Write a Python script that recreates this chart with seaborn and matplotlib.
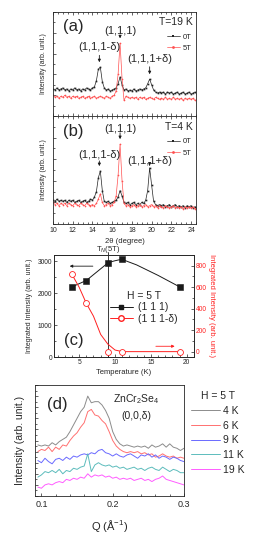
import numpy as np
import pandas as pd
import matplotlib
matplotlib.use("Agg")
import matplotlib.pyplot as plt
from matplotlib.lines import Line2D
from matplotlib.ticker import MultipleLocator, NullFormatter
import seaborn as sns

sns.set_theme(style="ticks")
plt.rcParams['font.family'] = ['Liberation Sans', 'DejaVu Sans']
plt.rcParams['mathtext.fontset'] = 'custom'
plt.rcParams['mathtext.rm'] = 'Liberation Sans'
plt.rcParams['mathtext.it'] = 'Liberation Sans:italic'
plt.rcParams['axes.linewidth'] = 0.6

# ---------------- data: panels (a),(b) 2theta scans ----------------
two_theta_start, two_theta_step, n_scan = 10.0, 0.2, 74
two_theta = two_theta_start + two_theta_step * np.arange(n_scan)

a_0T = [0.26, 0.25, 0.27, 0.25, 0.26,
        0.27, 0.25, 0.26, 0.24, 0.26,
        0.25, 0.27, 0.25, 0.26, 0.24,
        0.26, 0.25, 0.27, 0.26, 0.25,
        0.27, 0.28, 0.34, 0.45, 0.47,
        0.33, 0.27, 0.25, 0.26, 0.24,
        0.25, 0.26, 0.27, 0.31, 0.375,
        0.30, 0.25, 0.26, 0.24, 0.25,
        0.24, 0.26, 0.24, 0.25, 0.26,
        0.25, 0.26, 0.27, 0.31, 0.355,
        0.30, 0.25, 0.23, 0.22, 0.23,
        0.22, 0.23, 0.21, 0.23, 0.22,
        0.23, 0.21, 0.22, 0.23, 0.21,
        0.22, 0.23, 0.21, 0.22, 0.23,
        0.21, 0.22, 0.23, 0.21]
a_5T = [0.20, 0.18, 0.19, 0.17, 0.19,
        0.18, 0.20, 0.18, 0.19, 0.17,
        0.19, 0.18, 0.19, 0.17, 0.18,
        0.19, 0.17, 0.18, 0.19, 0.17,
        0.18, 0.19, 0.17, 0.18, 0.19,
        0.18, 0.17, 0.19, 0.18, 0.17,
        0.19, 0.20, 0.24, 0.40, 0.70,
        0.36, 0.15, 0.19, 0.18, 0.17,
        0.18, 0.17, 0.18, 0.16, 0.18,
        0.17, 0.18, 0.16, 0.17, 0.18,
        0.17, 0.16, 0.18, 0.17, 0.16,
        0.17, 0.16, 0.18, 0.16, 0.17,
        0.16, 0.18, 0.16, 0.17, 0.16,
        0.17, 0.15, 0.17, 0.16, 0.17,
        0.16, 0.17, 0.15, 0.16]
b_0T = [0.22, 0.21, 0.23, 0.21, 0.22,
        0.21, 0.22, 0.20, 0.22, 0.21,
        0.22, 0.20, 0.21, 0.22, 0.20,
        0.21, 0.22, 0.20, 0.21, 0.23,
        0.22, 0.25, 0.30, 0.43, 0.49,
        0.31, 0.21, 0.20, 0.21, 0.19,
        0.20, 0.21, 0.22, 0.25, 0.31,
        0.26, 0.20, 0.19, 0.20, 0.18,
        0.19, 0.20, 0.18, 0.19, 0.18,
        0.20, 0.19, 0.22, 0.31, 0.52,
        0.36, 0.21, 0.18, 0.17, 0.18,
        0.17, 0.18, 0.16, 0.17, 0.18,
        0.16, 0.17, 0.18, 0.16, 0.17,
        0.16, 0.17, 0.15, 0.17, 0.16,
        0.17, 0.15, 0.16, 0.15]
b_5T = [0.20, 0.18, 0.19, 0.17, 0.19,
        0.18, 0.19, 0.17, 0.19, 0.18,
        0.17, 0.19, 0.18, 0.17, 0.19,
        0.18, 0.17, 0.19, 0.18, 0.17,
        0.18, 0.17, 0.19, 0.23, 0.28,
        0.20, 0.17, 0.18, 0.19, 0.17,
        0.18, 0.20, 0.26, 0.45, 0.74,
        0.40, 0.19, 0.17, 0.18, 0.16,
        0.17, 0.18, 0.16, 0.17, 0.18,
        0.16, 0.17, 0.18, 0.16, 0.17,
        0.18, 0.16, 0.17, 0.15, 0.17,
        0.16, 0.15, 0.17, 0.16, 0.15,
        0.16, 0.17, 0.15, 0.16, 0.15,
        0.16, 0.14, 0.16, 0.15, 0.16,
        0.15, 0.16, 0.14, 0.15]
peak_pos = [14.7, 16.8, 19.8]
peak_labels = ["(1,1,1-δ)", "(1,1,1)", "(1,1,1+δ)"]

# ---------------- data: panel (c) integrated intensities ----------------
T_pts = [4, 6, 9, 11, 19]
I_111 = [2200, 2400, 2950, 3070, 2200]
I_111d = [720, 450, 0, 0, 0]
# guide-to-the-eye curves
guide_T_111 = [4, 6, 9, 9.5, 10, 10.5, 11, 13, 16, 19]
guide_I_111 = [2200, 2400, 2950, 2990, 3020, 3045, 3060, 2890, 2560, 2200]
guide_T_111d = [4, 5, 6, 7, 8, 9, 10, 11, 12, 19]
guide_I_111d = [720, 600, 450, 330, 160, 70, 15, 0, 0, 0]
T_N = 9

# ---------------- data: panel (d) Q scans ----------------
Q = [0.095, 0.100, 0.105, 0.110, 0.115, 0.120, 0.125, 0.130, 0.135, 0.140,
     0.145, 0.150, 0.155, 0.160, 0.165, 0.170, 0.175, 0.180, 0.185, 0.190,
     0.195, 0.200, 0.205, 0.210, 0.215, 0.220, 0.225, 0.230, 0.235, 0.240,
     0.245, 0.250, 0.255, 0.260, 0.265, 0.270, 0.275, 0.280, 0.285, 0.290,
     0.295, 0.300]
d_4K = [0.46, 0.45, 0.46, 0.45, 0.48, 0.46, 0.49, 0.51, 0.53, 0.58,
        0.64, 0.70, 0.76, 0.80, 0.90, 0.84, 0.85, 0.85, 0.82, 0.77,
        0.70, 0.58, 0.51, 0.47, 0.45, 0.46, 0.45, 0.44, 0.45, 0.44,
        0.45, 0.43, 0.46, 0.44, 0.45, 0.47, 0.44, 0.47, 0.44, 0.43,
        0.41, 0.43]
d_6K = [0.40, 0.42, 0.41, 0.44, 0.40, 0.44, 0.42, 0.46, 0.45, 0.50,
        0.54, 0.57, 0.62, 0.66, 0.76, 0.78, 0.73, 0.72, 0.68, 0.65,
        0.58, 0.50, 0.45, 0.42, 0.40, 0.39, 0.40, 0.39, 0.40, 0.38,
        0.39, 0.37, 0.38, 0.35, 0.36, 0.38, 0.36, 0.35, 0.36, 0.34,
        0.35, 0.34]
d_9K = [0.32, 0.30, 0.34, 0.31, 0.29, 0.33, 0.34, 0.32, 0.35, 0.33,
        0.36, 0.35, 0.37, 0.38, 0.37, 0.39, 0.38, 0.41, 0.42, 0.39,
        0.38, 0.36, 0.38, 0.36, 0.35, 0.37, 0.38, 0.36, 0.34, 0.37,
        0.36, 0.38, 0.35, 0.37, 0.34, 0.36, 0.35, 0.33, 0.35, 0.34,
        0.32, 0.31]
d_11K = [0.17, 0.19, 0.22, 0.21, 0.23, 0.21, 0.24, 0.20, 0.23, 0.22,
         0.25, 0.24, 0.26, 0.27, 0.38, 0.22, 0.28, 0.30, 0.28, 0.27,
         0.28, 0.26, 0.27, 0.25, 0.26, 0.24, 0.25, 0.26, 0.24, 0.25,
         0.23, 0.25, 0.26, 0.24, 0.23, 0.26, 0.24, 0.22, 0.24, 0.23,
         0.21, 0.21]
d_19K = [0.08, 0.07, 0.10, 0.11, 0.10, 0.12, 0.13, 0.12, 0.15, 0.14,
         0.16, 0.15, 0.17, 0.16, 0.20, 0.17, 0.19, 0.18, 0.19, 0.17,
         0.18, 0.16, 0.17, 0.15, 0.16, 0.15, 0.16, 0.14, 0.15, 0.16,
         0.14, 0.15, 0.13, 0.15, 0.16, 0.18, 0.15, 0.14, 0.13, 0.12,
         0.11, 0.10]
d_labels = ["4 K", "6 K", "9 K", "11 K", "19 K"]
d_colors = ["#8c8c8c", "#ff7070", "#6a6aff", "#5cbcbc", "#ff5cff"]

W, H = 259, 534
fig = plt.figure(figsize=(W / 100, H / 100), dpi=100)


def fbox(l, t, r, b):
    return [l / W, 1 - b / H, (r - l) / W, (b - t) / H]


def style_scan(ax):
    ax.set_xlim(10, 24.5)
    ax.set_ylim(0, 1)
    ax.xaxis.set_major_locator(MultipleLocator(2))
    ax.xaxis.set_minor_locator(MultipleLocator(0.5))
    ax.yaxis.set_major_locator(MultipleLocator(0.2))
    ax.yaxis.set_minor_locator(MultipleLocator(0.1))
    ax.yaxis.set_major_formatter(NullFormatter())
    ax.tick_params(which='both', direction='in', top=True, right=False,
                   width=0.5, labelsize=5, pad=2)
    ax.tick_params(which='major', length=2.5)
    ax.tick_params(which='minor', length=1.5)
    ax.set_ylabel("Intensity (arb. unit.)", fontsize=5, labelpad=2)


scan_panels = [
    ("(a)", "T=19 K", a_0T, a_5T, fbox(53, 12, 196, 116),
     [(0.47, 0.66, 0.56), (0.70, 0.82, 0.75), (0.355, 0.55, 0.45)]),
    ("(b)", "T=4 K", b_0T, b_5T, fbox(53, 116, 196, 224),
     [(0.49, 0.64, 0.56), (0.74, 0.88, 0.82), (0.52, 0.58, 0.50)]),
]

for i, (tag, tlabel, y0, y5, box, ann) in enumerate(scan_panels):
    ax = fig.add_axes(box)
    sns.lineplot(x=two_theta, y=y0, ax=ax, color="#222222", lw=0.5,
                 marker='s', markersize=1.2, markeredgewidth=0, label="0T")
    sns.lineplot(x=two_theta, y=y5, ax=ax, color="#ff5050", lw=0.5,
                 marker='o', markersize=1.2, markeredgewidth=0, label="5T")
    style_scan(ax)
    if i == 0:
        ax.tick_params(labelbottom=False)
        ax.set_xlabel("")
    else:
        ax.set_xlabel("2θ (degree)", fontsize=5.5, labelpad=3)
    ax.text(0.07, 0.86, tag, transform=ax.transAxes, fontsize=12,
            ha='left', va='center')
    ax.text(0.98, 0.90, tlabel, transform=ax.transAxes, fontsize=7.5,
            ha='right', va='center')
    for pos, lab, (ypk, ytxt, yarr) in zip(peak_pos, peak_labels, ann):
        ax.annotate("", xy=(pos, ypk + 0.02), xytext=(pos, yarr + 0.05),
                    arrowprops=dict(arrowstyle='-|>', lw=0.6, color='k',
                                    mutation_scale=4))
        ax.text(pos, ytxt, lab, fontsize=8, ha='center', va='center')
    leg = ax.legend(loc='upper right', bbox_to_anchor=(1.0, 0.84),
                    frameon=False, fontsize=5.5, handlelength=1.8,
                    handletextpad=0.3, labelspacing=0.55, borderaxespad=0.2)
    for lh in leg.get_lines():
        lh.set_markersize(2)

# ---------------- panel (c) ----------------
axc = fig.add_axes(fbox(54, 255, 194, 357))
sns.lineplot(x=guide_T_111, y=guide_I_111, ax=axc, color='k', lw=0.7)
sns.scatterplot(x=T_pts, y=I_111, ax=axc, color='k', marker='s', s=14,
                edgecolor='k', linewidth=0.4, zorder=5)
axc.set_xlim(1.5, 21)
axc.set_ylim(0, 3200)
axc.xaxis.set_major_locator(MultipleLocator(5))
axc.xaxis.set_minor_locator(MultipleLocator(1))
axc.yaxis.set_major_locator(MultipleLocator(1000))
axc.yaxis.set_minor_locator(MultipleLocator(500))
axc.tick_params(which='both', direction='in', width=0.5, labelsize=4.8, pad=1.5)
axc.tick_params(which='major', length=2.5)
axc.tick_params(which='minor', length=1.5)
axc.set_xlabel("Temperature (K)", fontsize=5.5, labelpad=2)
axc.set_ylabel("Integrated Intensity (arb. unit.)", fontsize=5, labelpad=3)
axc.axvline(T_N, ymin=0, ymax=1.03, color='k', lw=0.6, clip_on=False)
axc.text(T_N, 3370, "T$_N$(5T)", fontsize=5.5, ha='center', va='center')
axc.annotate("", xy=(3.3, 2850), xytext=(7.3, 2850),
             arrowprops=dict(arrowstyle='-|>', lw=0.6, color='k',
                             mutation_scale=4))
axc.text(0.07, 0.16, "(c)", transform=axc.transAxes, fontsize=12,
         ha='left', va='center')

axr = axc.twinx()
sns.lineplot(x=guide_T_111d, y=guide_I_111d, ax=axr, color='#ff2020', lw=0.7)
sns.scatterplot(x=T_pts, y=I_111d, ax=axr, marker='o', s=18,
                facecolor='white', edgecolor='#ff2020', linewidth=0.6, zorder=5)
axr.set_ylim(-50, 900)
axr.yaxis.set_major_locator(MultipleLocator(200))
axr.yaxis.set_minor_locator(MultipleLocator(100))
axr.tick_params(which='both', direction='in', width=0.5, labelsize=4.8,
                pad=1.5, labelcolor='#ff2020')
axr.tick_params(which='major', length=2.5)
axr.tick_params(which='minor', length=1.5)
axr.set_ylabel("Integrated Intensity (arb. unit.)", fontsize=5.5, color='#ff2020',
               rotation=270, labelpad=6)
axr.annotate("", xy=(18.7, 50), xytext=(15.3, 50),
             arrowprops=dict(arrowstyle='-|>', lw=0.6, color='#ff2020',
                             mutation_scale=4))
handles = [Line2D([], [], color='k', lw=0.7, marker='s', markersize=3.5),
           Line2D([], [], color='#ff2020', lw=0.7, marker='o', markersize=4,
                  markerfacecolor='white')]
legc = axr.legend(handles, ["(1 1 1)", "(1 1 1-δ)"], title="H = 5 T",
                  loc='upper left', bbox_to_anchor=(0.37, 0.69), frameon=False,
                  fontsize=7.5, title_fontsize=7.5, handlelength=2.2,
                  handletextpad=0.5, labelspacing=0.15, borderaxespad=0)

# ---------------- panel (d) ----------------
axd = fig.add_axes(fbox(35, 385, 184, 496))
for yv, lab, col in zip([d_4K, d_6K, d_9K, d_11K, d_19K], d_labels, d_colors):
    sns.lineplot(x=Q, y=yv, ax=axd, color=col, lw=0.7, label=lab)
axd.set_xlim(0.091, 0.3)
axd.set_ylim(0, 1)
axd.xaxis.set_major_locator(MultipleLocator(0.1))
axd.xaxis.set_minor_locator(MultipleLocator(0.02))
axd.yaxis.set_major_locator(MultipleLocator(0.1))
axd.yaxis.set_minor_locator(MultipleLocator(0.05))
axd.yaxis.set_major_formatter(NullFormatter())
axd.tick_params(which='both', direction='in', width=0.5, labelsize=6.5, pad=3)
axd.tick_params(which='major', length=2.5)
axd.tick_params(which='minor', length=1.5)
axd.set_xlabel("Q (Å$^{-1}$)", fontsize=8, labelpad=6)
axd.set_ylabel("Intensity (arb. unit.)", fontsize=7.5, labelpad=4)
axd.text(0.08, 0.82, "(d)", transform=axd.transAxes, fontsize=12,
         ha='left', va='center')
axd.text(0.68, 0.87, "ZnCr$_2$Se$_4$", transform=axd.transAxes, fontsize=7.5,
         ha='center', va='center')
axd.text(0.68, 0.72, "(0,0,δ)", transform=axd.transAxes, fontsize=7.5,
         ha='center', va='center')
legd = axd.legend(title="H = 5 T", loc='upper left', bbox_to_anchor=(1.02, 0.98),
                  frameon=False, fontsize=7.5, title_fontsize=7.5,
                  handlelength=2.8, handletextpad=0.3, labelspacing=0.45,
                  borderaxespad=0)

fig.savefig("out.png", dpi=100)
